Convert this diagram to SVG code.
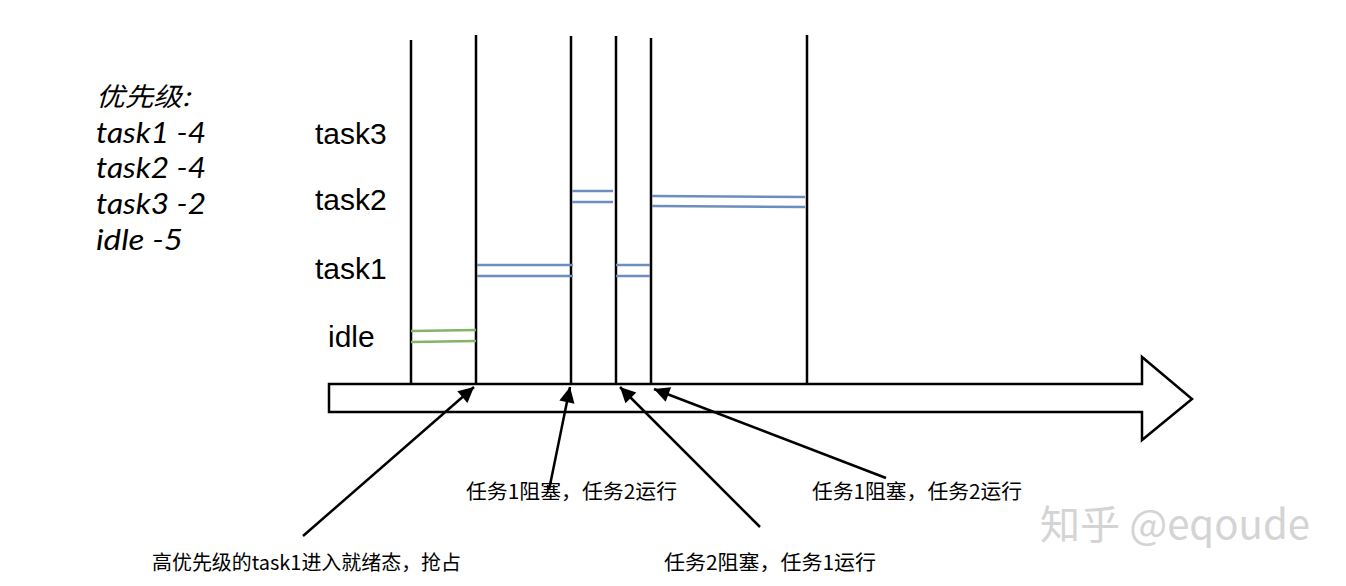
<svg xmlns="http://www.w3.org/2000/svg" width="1346" height="586" viewBox="0 0 1346 586">
<defs>
<style>
.v{stroke:#000;stroke-width:2.5;fill:none}
.b{stroke:#6c8ebf;stroke-width:2.5;fill:none}
.g{stroke:#82b366;stroke-width:2.5;fill:none}
.p{stroke:#000;stroke-width:2.5;fill:none}
.lbl{font-family:"Liberation Sans",Arial,sans-serif;font-size:30px;fill:#000}
.leg{font-family:Lato,"Noto Sans",sans-serif;font-style:italic;font-size:28px;fill:#000}
.legcn{font-family:"Noto Sans CJK SC",sans-serif;font-style:italic;font-size:26px;fill:#000}
.cn{font-family:"Noto Sans CJK SC","Liberation Sans",sans-serif;font-size:20px;fill:#000}
.wm{font-family:"Noto Sans CJK SC","Liberation Sans",sans-serif;font-size:40px;fill:#d4d4d4}
</style>
<marker id="ah" viewBox="0 0 10 10" refX="10" refY="5" markerWidth="8" markerHeight="7" markerUnits="userSpaceOnUse" orient="auto" overflow="visible">
<path d="M0,0 L10,5 L0,10 z" fill="#000" transform="scale(2.2)" transform-origin="10 5"/>
</marker>
</defs>
<rect width="1346" height="586" fill="#fff"/>

<g id="legend">
<text class="legcn" x="96" y="106" textLength="94" lengthAdjust="spacingAndGlyphs">优先级:</text>
<text class="leg" x="96" y="143" textLength="110" lengthAdjust="spacingAndGlyphs">task1 -4</text>
<text class="leg" x="96" y="178" textLength="110" lengthAdjust="spacingAndGlyphs">task2 -4</text>
<text class="leg" x="96" y="214" textLength="110" lengthAdjust="spacingAndGlyphs">task3 -2</text>
<text class="leg" x="96" y="250" textLength="87" lengthAdjust="spacingAndGlyphs">idle -5</text>
</g>

<g id="row-labels">
<text class="lbl" x="315" y="144">task3</text>
<text class="lbl" x="315" y="210">task2</text>
<text class="lbl" x="315" y="279">task1</text>
<text class="lbl" x="328" y="347">idle</text>
</g>

<g id="timeline">
<polygon points="329,384 1142,384 1142,357 1192,399 1142,440 1142,412 329,412" fill="#fff" stroke="#000" stroke-width="2.5"/>
</g>

<g id="time-marks">
<line class="v" x1="411" y1="40" x2="411" y2="383"/>
<line class="v" x1="476" y1="35" x2="476" y2="383"/>
<line class="v" x1="571" y1="36" x2="571" y2="383"/>
<line class="v" x1="616" y1="36" x2="616" y2="383"/>
<line class="v" x1="651" y1="38" x2="651" y2="383"/>
<line class="v" x1="807" y1="35" x2="807" y2="383"/>
</g>

<g id="idle-run">
<line class="g" x1="411" y1="331" x2="476" y2="330"/>
<line class="g" x1="411" y1="342" x2="476" y2="341"/>
</g>
<g id="task1-run">
<line class="b" x1="477" y1="265" x2="573" y2="265"/>
<line class="b" x1="477" y1="276" x2="573" y2="276"/>
<line class="b" x1="616" y1="265" x2="650" y2="265"/>
<line class="b" x1="616" y1="276" x2="650" y2="276"/>
</g>
<g id="task2-run">
<line class="b" x1="572" y1="191" x2="613" y2="191"/>
<line class="b" x1="572" y1="202" x2="613" y2="202"/>
<line class="b" x1="652" y1="196" x2="805" y2="197"/>
<line class="b" x1="652" y1="206" x2="805" y2="207"/>
</g>

<g id="connectors">
<line class="p" x1="303" y1="536" x2="474" y2="387" marker-end="url(#ah)"/>
<line class="p" x1="549" y1="490" x2="570" y2="387" marker-end="url(#ah)"/>
<line class="p" x1="760" y1="527" x2="620" y2="387" marker-end="url(#ah)"/>
<line class="p" x1="886" y1="478" x2="654" y2="389" marker-end="url(#ah)"/>
</g>

<g id="annotations">
<text class="cn" x="466" y="499" textLength="211" lengthAdjust="spacingAndGlyphs">任务1阻塞，任务2运行</text>
<text class="cn" x="812" y="499" textLength="210" lengthAdjust="spacingAndGlyphs">任务1阻塞，任务2运行</text>
<text class="cn" x="152" y="570" textLength="309" lengthAdjust="spacingAndGlyphs">高优先级的task1进入就绪态，抢占</text>
<text class="cn" x="664" y="570" textLength="212" lengthAdjust="spacingAndGlyphs">任务2阻塞，任务1运行</text>
</g>

<g id="watermark">
<text class="wm" x="1040" y="539" textLength="270" lengthAdjust="spacingAndGlyphs">知乎 @eqoude</text>
</g>
</svg>
